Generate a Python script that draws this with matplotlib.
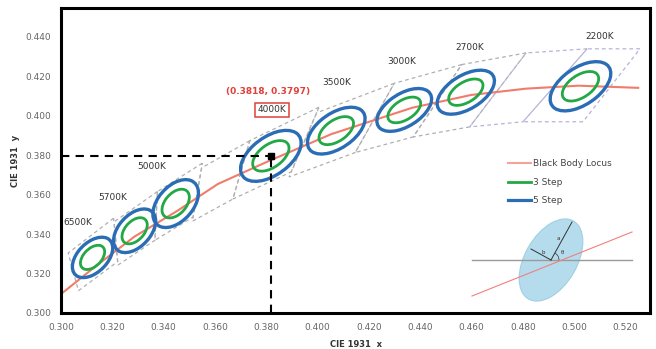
import numpy as np
import matplotlib
matplotlib.use("Agg")
import matplotlib.pyplot as plt
from matplotlib.patches import Ellipse, Polygon, Arc
from matplotlib.lines import Line2D

# ---------------- data ----------------
# Black body locus
locus_x = [0.300, 0.3135, 0.3287, 0.3451, 0.3611, 0.3805, 0.4053, 0.4369, 0.4599, 0.4813, 0.5018, 0.525]
locus_y = [0.3096, 0.3237, 0.3388, 0.3516, 0.3654, 0.3768, 0.3907, 0.4041, 0.4106, 0.4138, 0.4153, 0.4142]

# MacAdam ellipses (1-step parameters)
cct_names = ["6500K", "5700K", "5000K", "4000K", "3500K", "3000K", "2700K", "2200K"]
ell_cx = [0.3123, 0.3287, 0.3447, 0.3818, 0.4073, 0.4338, 0.4578, 0.5025]
ell_cy = [0.3282, 0.3417, 0.3555, 0.3797, 0.3925, 0.4030, 0.4120, 0.4150]
ell_a = [0.00225, 0.00240, 0.00262, 0.00305, 0.00285, 0.00265, 0.00275, 0.00300]
ell_b = [0.00127, 0.00135, 0.00148, 0.00172, 0.00160, 0.00150, 0.00155, 0.00168]
ell_theta = [60.0, 62.0, 63.0, 50.0, 48.0, 46.0, 45.0, 48.0]
steps = [3, 5]

# ANSI quadrangles (corners x / y)
quad_names = ["6500K", "5700K", "5000K", "4500K", "4000K", "3500K", "3000K", "2700K", "2450K", "2200K"]
quad_x = [
    [0.3205, 0.3028, 0.3068, 0.3221],
    [0.3376, 0.3207, 0.3222, 0.3366],
    [0.3551, 0.3376, 0.3366, 0.3515],
    [0.3736, 0.3548, 0.3512, 0.3670],
    [0.4006, 0.3736, 0.3670, 0.3898],
    [0.4299, 0.3996, 0.3889, 0.4147],
    [0.4562, 0.4299, 0.4147, 0.4373],
    [0.4813, 0.4562, 0.4373, 0.4593],
    [0.5051, 0.4813, 0.4593, 0.4801],
    [0.5257, 0.5051, 0.4801, 0.5035],
]
quad_y = [
    [0.3481, 0.3304, 0.3113, 0.3261],
    [0.3616, 0.3462, 0.3243, 0.3369],
    [0.3760, 0.3616, 0.3369, 0.3487],
    [0.3874, 0.3736, 0.3465, 0.3578],
    [0.4044, 0.3874, 0.3578, 0.3716],
    [0.4165, 0.4015, 0.3690, 0.3814],
    [0.4260, 0.4165, 0.3814, 0.3893],
    [0.4319, 0.4260, 0.3893, 0.3944],
    [0.4340, 0.4319, 0.3944, 0.3970],
    [0.4340, 0.4340, 0.3970, 0.3970],
]
quad_colors = ["#b0b0b0"] * 8 + ["#b4b4d8", "#b4b4d8"]

# CCT labels positions
label_names = ["6500K", "5700K", "5000K", "3500K", "3000K", "2700K", "2200K"]
label_x = [0.3066, 0.3203, 0.3355, 0.4076, 0.4329, 0.4595, 0.5101]
label_y = [0.3457, 0.3584, 0.3741, 0.4168, 0.4274, 0.4345, 0.4401]

# highlighted point
pt_x, pt_y = 0.3818, 0.3797
pt_text = "(0.3818, 0.3797)"
pt_text_pos = (0.3807, 0.4122)
box_text = "4000K"
box_text_pos = (0.3823, 0.4030)

x_ticks = [0.300, 0.320, 0.340, 0.360, 0.380, 0.400, 0.420, 0.440, 0.460, 0.480, 0.500, 0.520]
y_ticks = [0.300, 0.320, 0.340, 0.360, 0.380, 0.400, 0.420, 0.440]

# inset schematic (own pixel-like units)
ins_center = (86, 50)
ins_axes = (90, 52)     # full width / height
ins_angle = 60
ins_hline_x = [7, 167]
ins_hline_y = [50, 50]
ins_red_x = [7, 167]
ins_red_y = [14, 78]
ins_a_end = (107, 88)
ins_b_end = (66, 61)

RED = "#f07c6c"
GREEN = "#22a845"
BLUE = "#2a6db5"

# ---------------- figure ----------------
fig = plt.figure(figsize=(6.56, 3.49), dpi=100)
ax = fig.add_axes([61 / 656, 1 - 313 / 349, 589 / 656, 305 / 349])
ax.set_xlim(0.300, 0.5296)
ax.set_ylim(0.300, 0.4547)

# quadrangles
for qx, qy, qc in zip(quad_x, quad_y, quad_colors):
    poly = Polygon(list(zip(qx, qy)), closed=True, fill=False, ec=qc, lw=0.9,
                   ls=(0, (3, 2.5)), zorder=1)
    ax.add_patch(poly)

# locus
ax.plot(locus_x, locus_y, color=RED, lw=1.5, zorder=2)

# ellipses
for cx, cy, a, b, th in zip(ell_cx, ell_cy, ell_a, ell_b, ell_theta):
    for n, col, lw in zip(steps, [GREEN, BLUE], [2.0, 2.4]):
        e = Ellipse((cx, cy), width=2 * a * n, height=2 * b * n, angle=th,
                    fill=False, ec=col, lw=lw, zorder=3)
        ax.add_patch(e)

# dashed reference lines
ax.plot([0.300, pt_x], [pt_y, pt_y], color="black", lw=1.5, ls=(0, (4, 3)), zorder=4)
ax.plot([pt_x, pt_x], [0.300, pt_y], color="black", lw=1.5, ls=(0, (4, 3)), zorder=4)
ax.plot([pt_x], [pt_y], marker="s", color="black", ms=4.5, zorder=5)

# texts
for name, lx, ly in zip(label_names, label_x, label_y):
    ax.text(lx, ly, name, fontsize=6.5, color="#333333", ha="center", va="center")
ax.text(pt_text_pos[0], pt_text_pos[1], pt_text, fontsize=6.5, color="#e0403a",
        fontweight="bold", ha="center", va="center")
ax.text(box_text_pos[0], box_text_pos[1], box_text, fontsize=6.5, color="#333333",
        ha="center", va="center",
        bbox=dict(boxstyle="square,pad=0.25", fc="white", ec="#e0403a", lw=1.1))

# axes styling
ax.set_xticks(x_ticks)
ax.set_yticks(y_ticks)
ax.set_xticklabels([f"{v:.3f}" for v in x_ticks])
ax.set_yticklabels([f"{v:.3f}" for v in y_ticks])
ax.tick_params(length=0, labelsize=6.5, labelcolor="#666666", pad=7)
for s in ax.spines.values():
    s.set_linewidth(2.2)
    s.set_color("black")
ax.set_xlabel("CIE 1931  x", fontsize=6, fontweight="bold", color="#333333", labelpad=6)
ax.set_ylabel("CIE 1931  y", fontsize=6, fontweight="bold", color="#333333", labelpad=4)

# legend
handles = [Line2D([], [], color=RED, lw=1.5, alpha=0.7),
           Line2D([], [], color=GREEN, lw=2.0),
           Line2D([], [], color=BLUE, lw=2.3)]
ax.legend(handles, ["Black Body Locus", "3 Step", "5 Step"], loc="upper left",
          bbox_to_anchor=(0.745, 0.53), frameon=False, fontsize=6.5,
          handlelength=2.6, handletextpad=0.15, labelspacing=1.05,
          labelcolor="#444444")

# inset schematic
ins = fig.add_axes([465 / 656, 1 - 310 / 349, 175 / 656, 105 / 349])
ins.set_xlim(0, 175)
ins.set_ylim(0, 105)
ins.axis("off")
ins.add_patch(Ellipse(ins_center, ins_axes[0], ins_axes[1], angle=ins_angle,
                      fc="#b5dcec", ec="#9fd0e4", lw=0.8, zorder=1))
ins.plot(ins_hline_x, ins_hline_y, color="#9a9a9a", lw=1.0, zorder=2)
ins.plot(ins_red_x, ins_red_y, color="#f08080", lw=0.8, zorder=2)
ins.plot([ins_center[0], ins_a_end[0]], [ins_center[1], ins_a_end[1]], color="#333333", lw=0.7, zorder=3)
ins.plot([ins_center[0], ins_b_end[0]], [ins_center[1], ins_b_end[1]], color="#333333", lw=0.7, zorder=3)
ins.add_patch(Arc(ins_center, 16, 16, theta1=0, theta2=ins_angle, color="#333333", lw=0.5, zorder=3))
ins.text(93, 72, "a", fontsize=4, color="#333333", ha="center", va="center")
ins.text(78, 57, "b", fontsize=4, color="#333333", ha="center", va="center")
ins.text(97, 58, "θ", fontsize=4, color="#333333", ha="center", va="center")

fig.savefig("out.png", dpi=100)
